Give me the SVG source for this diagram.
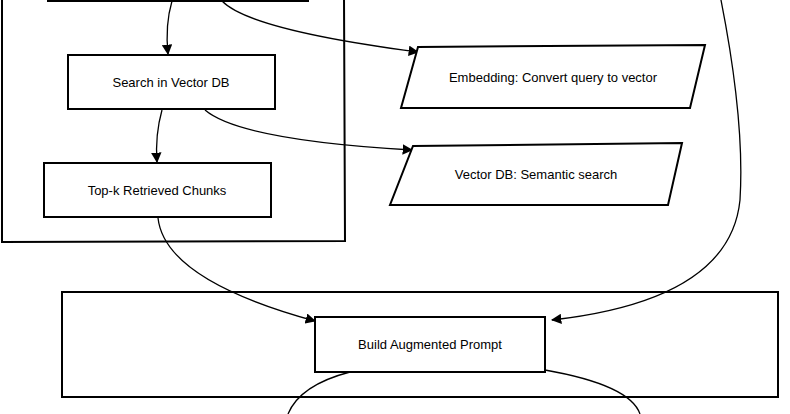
<svg xmlns="http://www.w3.org/2000/svg" width="790" height="414" viewBox="0 0 790 414">
<style>
.n{fill:#fff;stroke:#000;stroke-width:2}
.f{fill:none;stroke:#000;stroke-width:2}
.t{font-family:"Liberation Sans",sans-serif;font-size:13px;fill:#000;text-anchor:middle}
.c{fill:none;stroke:#000;stroke-width:1.3}
</style>
<defs><marker id="a" viewBox="0 0 10 10" refX="9" refY="5" markerWidth="8" markerHeight="8" orient="auto"><path d="M0,0L10,5L0,10z"/></marker></defs>
<rect width="790" height="414" fill="#fff"/>
<g id="frame1"><path class="f" d="M2,-5 L2,242 L345,241 L344,-5"/></g>
<g id="frame2"><rect class="f" x="62" y="292" width="716" height="105"/></g>
<g id="top"><rect class="n" x="48" y="-20" width="260" height="21"/></g>
<g id="connectors">
<path class="c" d="M172,1 Q165,25 168,54" marker-end="url(#a)"/>
<path class="c" d="M222,1 Q250,30 418,52" marker-end="url(#a)"/>
<path class="c" d="M162,110 Q155,135 157,162" marker-end="url(#a)"/>
<path class="c" d="M205,110 Q240,140 412,150" marker-end="url(#a)"/>
<path class="c" d="M158,218 Q165,280 315,321" marker-end="url(#a)"/>
<path class="c" d="M720,-5 Q745,120 740,200 Q730,300 552,320" marker-end="url(#a)"/>
<path class="c" d="M350,372 Q300,385 288,414"/>
<path class="c" d="M545,370 Q630,385 640,414"/>
</g>
<g id="search"><rect class="n" x="68" y="55" width="207" height="54"/><text class="t" x="171" y="87">Search in Vector DB</text></g>
<g id="topk"><rect class="n" x="44" y="163" width="227" height="54"/><text class="t" x="157" y="195">Top-k Retrieved Chunks</text></g>
<g id="embed"><polygon class="n" points="418,47 705,45 690,108 401,108"/><text class="t" x="553" y="82">Embedding: Convert query to vector</text></g>
<g id="vdb"><polygon class="n" points="413,146 682,143 668,205 390,205"/><text class="t" x="536" y="179">Vector DB: Semantic search</text></g>
<g id="build"><rect class="n" x="315" y="317" width="230" height="55"/><text class="t" x="430" y="349">Build Augmented Prompt</text></g>
</svg>
